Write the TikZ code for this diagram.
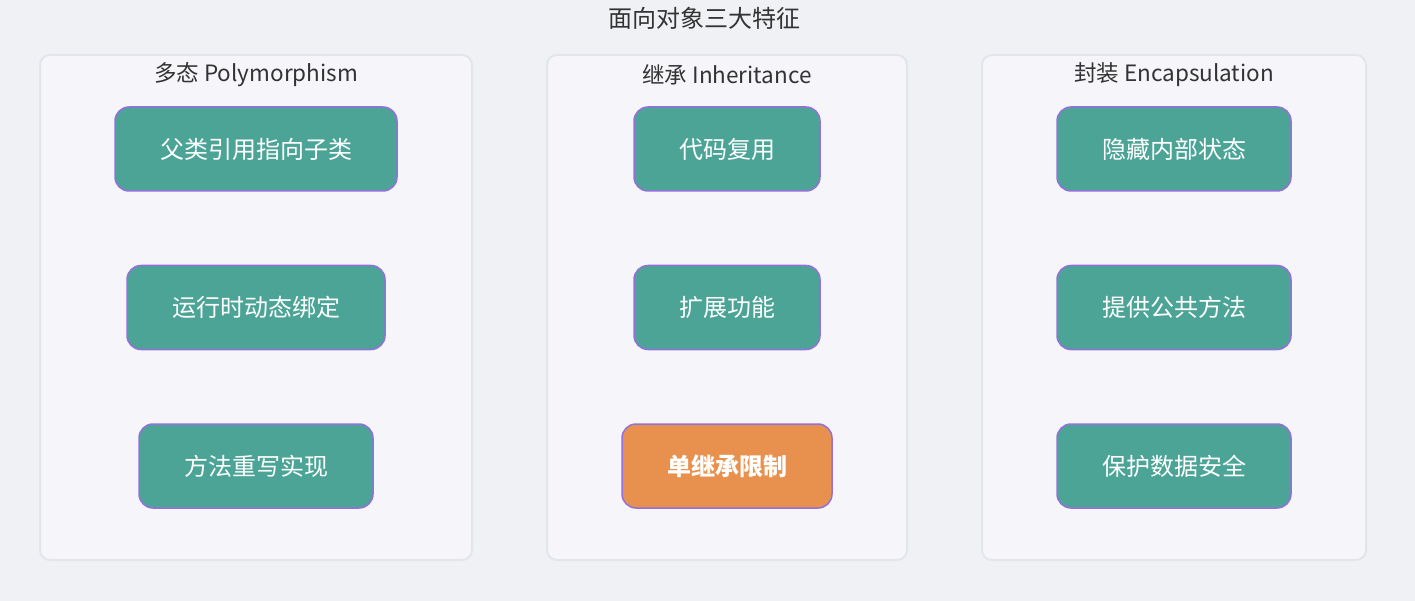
\documentclass[tikz,border=0pt]{standalone}
\usepackage{fontspec}
\setmainfont{Noto Sans CJK SC}
\usepackage{tikz}
\usetikzlibrary{positioning}

\definecolor{bgcol}{HTML}{F0F1F5}
\definecolor{clfill}{HTML}{F6F6FA}
\definecolor{cldraw}{HTML}{E2E5EA}
\definecolor{featfill}{HTML}{4CA497}
\definecolor{featdraw}{HTML}{9370DB}
\definecolor{warnfill}{HTML}{E8914F}
\definecolor{txtcol}{HTML}{333333}

\tikzset{
  cluster/.style={draw=cldraw, fill=clfill, line width=2pt, rounded corners=10pt, minimum height=505pt},
  cltitle/.style={text=txtcol, font=\fontsize{22.5}{27}\selectfont},
  feat/.style={draw=featdraw, fill=featfill, line width=1.5pt, rounded corners=14pt, minimum height=84pt, text=white, font=\fontsize{24}{28}\selectfont},
  warn/.style={feat, fill=warnfill, font=\fontsize{24}{28}\selectfont\bfseries}
}

\begin{document}
\begin{tikzpicture}[x=1pt,y=-1pt]
\fill[bgcol] (0,0) rectangle (1415,601);
\useasboundingbox (0,0) rectangle (1415,601);

\node[text=txtcol, font=\fontsize{24}{28}\selectfont] (title) at (704,18) {面向对象三大特征};

% 多态
\node[cluster, minimum width=432pt] (poly) at (256,307.5) {};
\node[cltitle] (polyT) at (256,75) {多态 Polymorphism};
\node[feat, minimum width=282pt] (p1) at (256,149) {父类引用指向子类};
\node[feat, minimum width=258pt] (p2) at (256,307.5) {运行时动态绑定};
\node[feat, minimum width=234pt] (p3) at (256,466) {方法重写实现};

% 继承
\node[cluster, minimum width=360pt] (inh) at (727,307.5) {};
\node[cltitle] (inhT) at (727,75) {继承 Inheritance};
\node[feat, minimum width=186pt] (i1) at (727,149) {代码复用};
\node[feat, minimum width=186pt] (i2) at (727,307.5) {扩展功能};
\node[warn, minimum width=210pt] (i3) at (727,466) {单继承限制};

% 封装
\node[cluster, minimum width=384pt] (enc) at (1174,307.5) {};
\node[cltitle] (encT) at (1174,75) {封装 Encapsulation};
\node[feat, minimum width=234pt] (e1) at (1174,149) {隐藏内部状态};
\node[feat, minimum width=234pt] (e2) at (1174,307.5) {提供公共方法};
\node[feat, minimum width=234pt] (e3) at (1174,466) {保护数据安全};
\end{tikzpicture}
\end{document}
